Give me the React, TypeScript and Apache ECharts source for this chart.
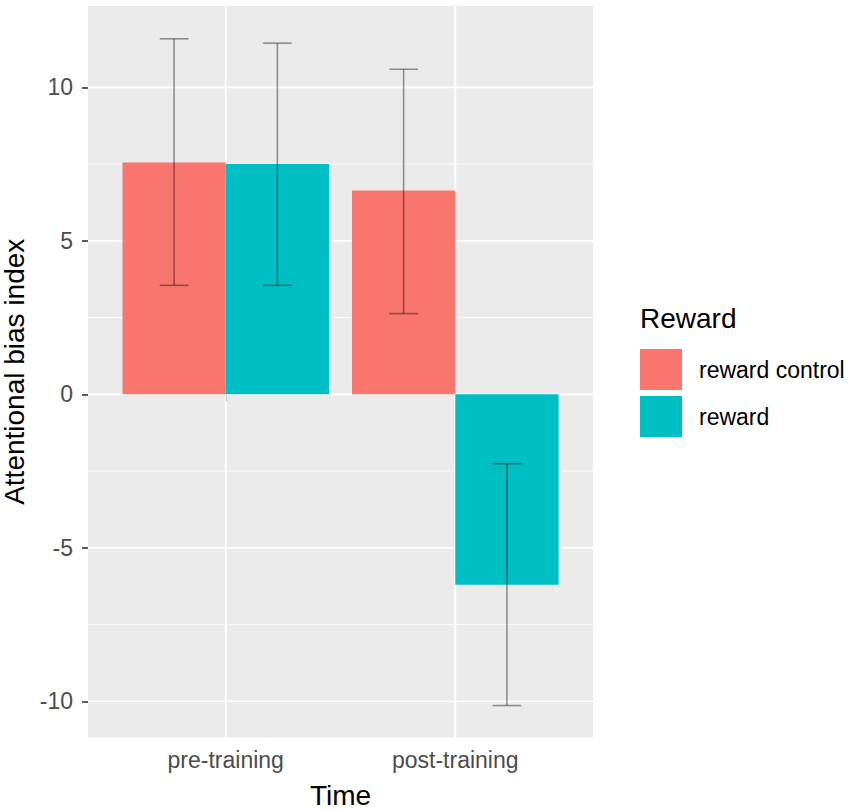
import React, { useEffect, useRef } from "react";
import * as echarts from "echarts";

const categories = ["pre-training", "post-training"];
const seriesNames = ["reward control", "reward"];
const rewardControlMean = [7.55, 6.64];
const rewardControlLow = [3.55, 2.63];
const rewardControlHigh = [11.58, 10.59];
const rewardMean = [7.5, -6.2];
const rewardLow = [3.55, -10.14];
const rewardHigh = [11.44, -2.26];
const yTicks = [-10, -5, 0, 5, 10];
const yMinor = [-7.5, -2.5, 2.5, 7.5];
const xPositions = [1, 2];

const FONT = "'Liberation Sans', Arial, sans-serif";
const RED = "#F8766D";
const TEAL = "#00BFC4";
const X_MIN = 0.4;
const X_MAX = 2.6;
const Y_MIN = -11.18;
const Y_MAX = 12.65;
const DODGE = 0.45;
const CAP = 0.0625;

function barRender(side: number) {
  return (params: any, api: any) => {
    const x = api.value(0);
    const v = api.value(1);
    const xa = side < 0 ? x - DODGE : x;
    const xb = xa + DODGE;
    const p0 = api.coord([xa, 0]);
    const p1 = api.coord([xb, v]);
    return {
      type: "rect",
      shape: {
        x: Math.min(p0[0], p1[0]),
        y: Math.min(p0[1], p1[1]),
        width: Math.abs(p1[0] - p0[0]),
        height: Math.abs(p1[1] - p0[1]),
      },
      style: { fill: api.visual("color") },
    };
  };
}

function errRender(side: number) {
  return (params: any, api: any) => {
    const x = api.value(0) + side * DODGE / 2;
    const lo = api.value(1);
    const hi = api.value(2);
    const pl = api.coord([x, lo]);
    const ph = api.coord([x, hi]);
    const cl = api.coord([x - CAP, lo]);
    const cr = api.coord([x + CAP, lo]);
    const hl = api.coord([x - CAP, hi]);
    const hr = api.coord([x + CAP, hi]);
    const st = { stroke: "rgba(0,0,0,0.4)", lineWidth: 1.6 };
    return {
      type: "group",
      children: [
        { type: "line", shape: { x1: pl[0], y1: pl[1], x2: ph[0], y2: ph[1] }, style: st },
        { type: "line", shape: { x1: cl[0], y1: cl[1], x2: cr[0], y2: cr[1] }, style: st },
        { type: "line", shape: { x1: hl[0], y1: hl[1], x2: hr[0], y2: hr[1] }, style: st },
      ],
    };
  };
}

function hGridRender(width: number) {
  return (params: any, api: any) => {
    const v = api.value(0);
    const a = api.coord([X_MIN, v]);
    const b = api.coord([X_MAX, v]);
    return {
      type: "line",
      shape: { x1: a[0], y1: a[1], x2: b[0], y2: b[1] },
      style: { stroke: "#FFFFFF", lineWidth: width },
    };
  };
}

function vGridRender(params: any, api: any) {
  const v = api.value(0);
  const a = api.coord([v, Y_MIN]);
  const b = api.coord([v, Y_MAX]);
  return {
    type: "line",
    shape: { x1: a[0], y1: a[1], x2: b[0], y2: b[1] },
    style: { stroke: "#FFFFFF", lineWidth: 1.8 },
  };
}

export default function App() {
  const ref = useRef<HTMLDivElement>(null);
  useEffect(() => {
    if (!ref.current) return;
    const chart = echarts.init(ref.current, null, { renderer: "svg" });
    const option: any = {
      animation: false,
      textStyle: { fontFamily: FONT },
      grid: {
        left: 88,
        right: 851 - 593,
        top: 6,
        bottom: 811 - 737.5,
        show: true,
        backgroundColor: "#EBEBEB",
        borderWidth: 0,
        containLabel: false,
        outerBoundsMode: "none",
      },
      xAxis: {
        type: "value",
        min: X_MIN,
        max: X_MAX,
        name: "Time",
        nameLocation: "middle",
        nameGap: 44,
        nameTextStyle: { fontSize: 28, color: "#000000", fontFamily: FONT },
        axisLine: { show: false },
        splitLine: { show: false },
        axisTick: {
          show: true,
          customValues: xPositions,
          length: 7,
          lineStyle: { color: "#333333", width: 1.6 },
        },
        axisLabel: {
          customValues: xPositions,
          formatter: (v: number) => categories[Math.round(v) - 1] ?? "",
          fontSize: 23,
          color: "#4D4D4D",
          margin: 11,
          fontFamily: FONT,
        },
      },
      yAxis: {
        type: "value",
        min: Y_MIN,
        max: Y_MAX,
        name: "Attentional bias index",
        nameLocation: "middle",
        nameGap: 53,
        nameTextStyle: { fontSize: 28, color: "#000000", fontFamily: FONT },
        axisLine: { show: false },
        splitLine: { show: false },
        axisTick: {
          show: true,
          customValues: yTicks,
          length: 6,
          lineStyle: { color: "#333333", width: 1.6 },
        },
        axisLabel: {
          customValues: yTicks,
          fontSize: 23,
          color: "#4D4D4D",
          margin: 15,
          fontFamily: FONT,
        },
      },
      legend: {
        data: seriesNames,
        orient: "vertical",
        left: 640,
        top: 349,
        itemWidth: 42,
        itemHeight: 41,
        itemGap: 6,
        icon: "rect",
        padding: 0,
        selectedMode: false,
        textStyle: { fontSize: 23, color: "#000000", fontFamily: FONT, padding: [0, 0, 0, 12] },
      },
      graphic: [
        {
          type: "text",
          left: 640,
          top: 304,
          style: { text: "Reward", fontSize: 28, fill: "#000000", fontFamily: FONT },
        },
      ],
      series: [
        {
          type: "custom",
          name: "minorGrid",
          z: 1,
          silent: true,
          renderItem: hGridRender(0.9),
          data: yMinor.map((v) => [v]),
          encode: { y: 0 },
        },
        {
          type: "custom",
          name: "majorGrid",
          z: 1,
          silent: true,
          renderItem: hGridRender(1.8),
          data: yTicks.map((v) => [v]),
          encode: { y: 0 },
        },
        {
          type: "custom",
          name: "vGrid",
          z: 1,
          silent: true,
          renderItem: vGridRender,
          data: xPositions.map((v) => [v]),
          encode: { x: 0 },
        },
        {
          type: "custom",
          name: seriesNames[0],
          z: 2,
          itemStyle: { color: RED },
          renderItem: barRender(-1),
          data: xPositions.map((x, i) => [x, rewardControlMean[i]]),
          encode: { x: 0, y: 1 },
        },
        {
          type: "custom",
          name: seriesNames[1],
          z: 2,
          itemStyle: { color: TEAL },
          renderItem: barRender(1),
          data: xPositions.map((x, i) => [x, rewardMean[i]]),
          encode: { x: 0, y: 1 },
        },
        {
          type: "custom",
          name: "errControl",
          z: 3,
          silent: true,
          renderItem: errRender(-1),
          data: xPositions.map((x, i) => [x, rewardControlLow[i], rewardControlHigh[i]]),
          encode: { x: 0, y: [1, 2] },
        },
        {
          type: "custom",
          name: "errReward",
          z: 3,
          silent: true,
          renderItem: errRender(1),
          data: xPositions.map((x, i) => [x, rewardLow[i], rewardHigh[i]]),
          encode: { x: 0, y: [1, 2] },
        },
      ],
    };
    chart.setOption(option);
    return () => chart.dispose();
  }, []);
  return (
    <div
      ref={ref}
      style={{ position: "absolute", left: 0, top: 0, width: 851, height: 811, background: "#FFFFFF" }}
    />
  );
}
